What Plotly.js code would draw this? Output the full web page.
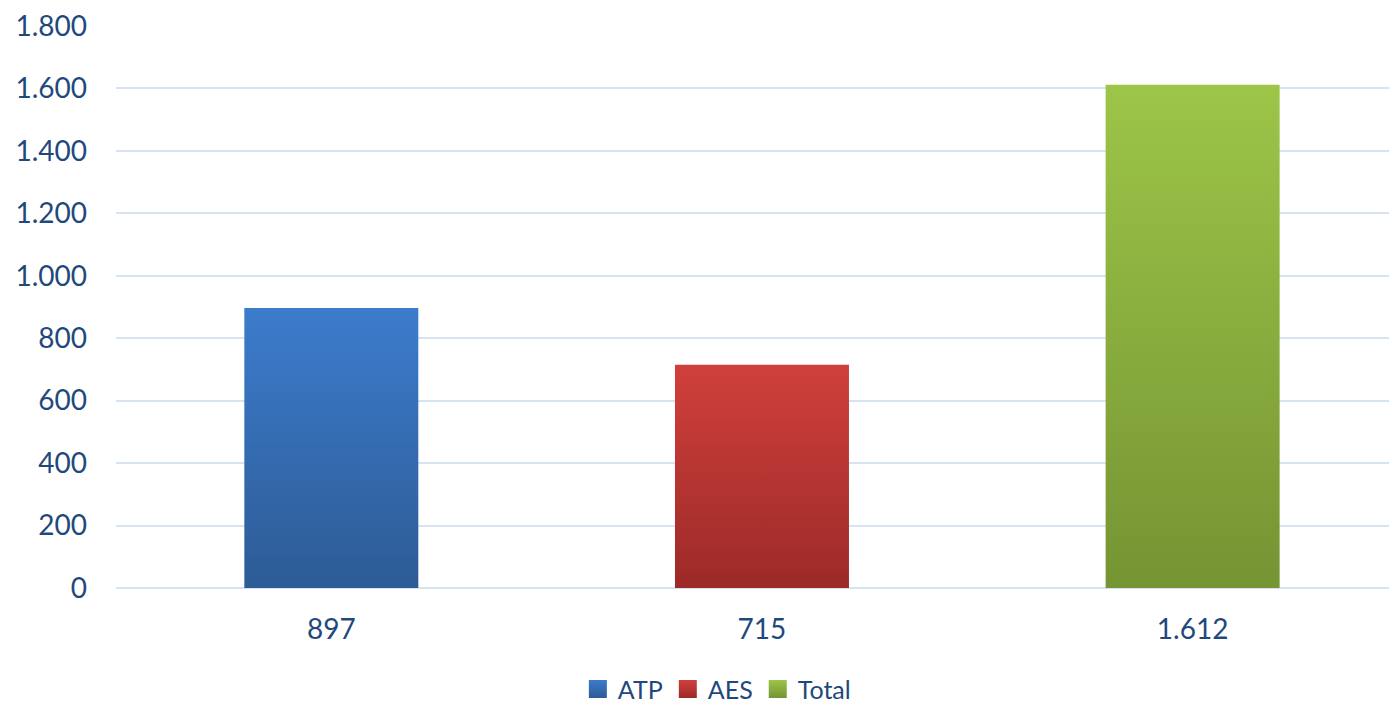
<!DOCTYPE html>
<html>
<head>
<meta charset="utf-8">
<script src="https://cdn.plot.ly/plotly-3.0.1.min.js"></script>
<style>html,body{margin:0;padding:0;background:#fff;overflow:hidden}#chart{width:1389px;height:704px}</style>
</head>
<body>
<div id="chart"></div>
<script>
const categories = ["897", "715", "1.612"];
const seriesNames = ["ATP", "AES", "Total"];
const seriesValues = [897, 715, 1612];
const yTickValues = [0, 200, 400, 600, 800, 1000, 1200, 1400, 1600, 1800];

const topColors = ["#3C7CCC", "#D0403C", "#9DC548"];
const bottomColors = ["#2D5B95", "#9C2A28", "#759433"];
const midColors = ["#3569B0", "#B63532", "#89AD3E"];
const textColor = "#1F497D";
const fontFamily = "Lato, 'Open Sans', sans-serif";

const traces = seriesNames.map((name, i) => ({
  type: "bar",
  name: name,
  x: [categories[i]],
  y: [seriesValues[i]],
  width: 0.404,
  marker: { color: midColors[i], line: { width: 0 } },
  hoverinfo: "x+y+name"
}));

const layout = {
  width: 1389,
  height: 704,
  margin: { l: 116, r: 0, t: 26, b: 116, autoexpand: false },
  paper_bgcolor: "#ffffff",
  plot_bgcolor: "#ffffff",
  barmode: "overlay",
  separators: ",.",
  font: { family: fontFamily, size: 28, color: textColor },
  xaxis: {
    type: "category",
    categoryarray: categories,
    range: [-0.5, 2.456],
    showgrid: false,
    showline: false,
    zeroline: false,
    ticks: "",
    ticklabelstandoff: 22,
    tickfont: { family: fontFamily, size: 28, color: textColor }
  },
  yaxis: {
    range: [0, 1800],
    tickvals: yTickValues,
    separatethousands: true,
    tickformat: ",d",
    showgrid: true,
    gridcolor: "#D8E3F2",
    gridwidth: 2,
    zeroline: true,
    zerolinecolor: "#D8E3F2",
    zerolinewidth: 2,
    showline: false,
    ticks: "",
    ticklabelstandoff: 28,
    tickfont: { family: fontFamily, size: 28, color: textColor }
  },
  legend: {
    orientation: "h",
    x: 0.472,
    xanchor: "center",
    y: -0.18,
    yanchor: "middle",
    bgcolor: "rgba(0,0,0,0)",
    font: { family: fontFamily, size: 25, color: textColor },
    itemwidth: 30,
    tracegroupgap: 0
  },
  showlegend: true
};

Plotly.newPlot("chart", traces, layout, { displayModeBar: false, staticPlot: true }).then(gd => {
  const svg = gd.querySelector("svg.main-svg");
  const ns = "http://www.w3.org/2000/svg";
  let defs = svg.querySelector("defs");
  if (!defs) { defs = document.createElementNS(ns, "defs"); svg.insertBefore(defs, svg.firstChild); }
  seriesNames.forEach((n, i) => {
    const g = document.createElementNS(ns, "linearGradient");
    g.setAttribute("id", "barGrad" + i);
    g.setAttribute("x1", "0"); g.setAttribute("y1", "0");
    g.setAttribute("x2", "0"); g.setAttribute("y2", "1");
    const s1 = document.createElementNS(ns, "stop");
    s1.setAttribute("offset", "0"); s1.setAttribute("stop-color", topColors[i]);
    const s2 = document.createElementNS(ns, "stop");
    s2.setAttribute("offset", "1"); s2.setAttribute("stop-color", bottomColors[i]);
    g.appendChild(s1); g.appendChild(s2);
    defs.appendChild(g);
  });
  gd.querySelectorAll(".barlayer .trace").forEach((t, i) => {
    t.querySelectorAll("path").forEach(p => { p.style.fill = "url(#barGrad" + i + ")"; });
  });
  gd.querySelectorAll(".legend .traces").forEach((t, i) => {
    t.querySelectorAll(".legendpoints path").forEach(p => {
      p.style.fill = "url(#barGrad" + i + ")";
      p.setAttribute("d", "M9,9H-9V-9H9Z");
    });
  });
});
</script>
</body>
</html>
